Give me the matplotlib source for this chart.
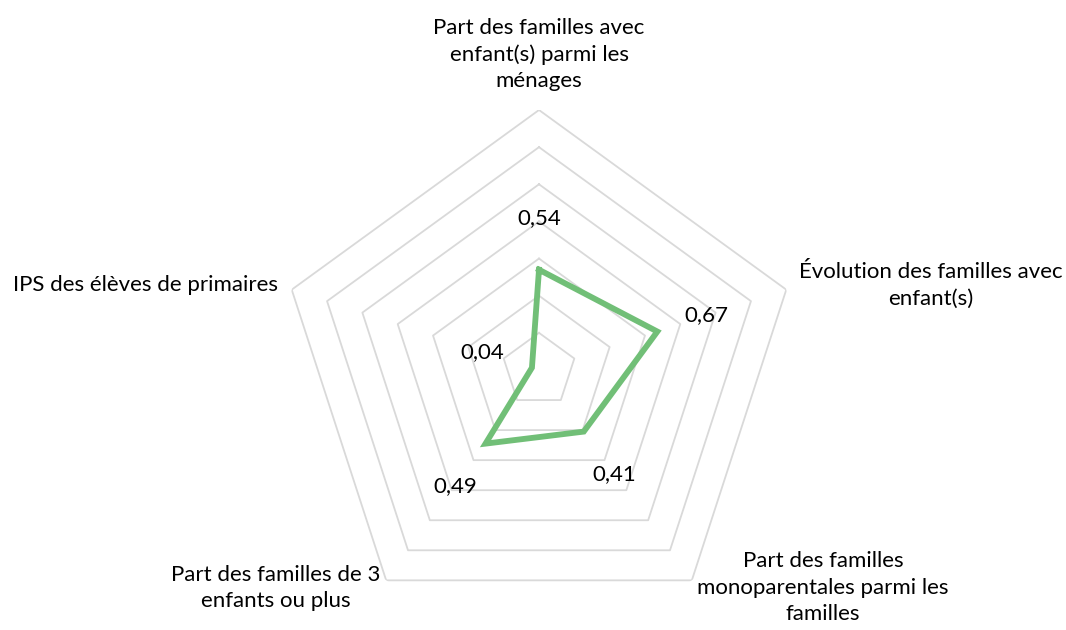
import numpy as np
import matplotlib
matplotlib.use('Agg')
import matplotlib.pyplot as plt

plt.rcParams['font.family'] = ['Lato', 'DejaVu Sans']

categories = ['Part des familles avec\nenfant(s) parmi les\nménages',
              'Évolution des familles avec\nenfant(s)',
              'Part des familles\nmonoparentales parmi les\nfamilles',
              'Part des familles de 3\nenfants ou plus',
              'IPS des élèves de primaires']
values = [0.54, 0.67, 0.41, 0.49, 0.04]
labels = ['0,54', '0,67', '0,41', '0,49', '0,04']
rings = [0.2, 0.4, 0.6, 0.8, 1.0, 1.2, 1.4]

n = len(categories)
angles = np.arange(n) * 2 * np.pi / n
closed = np.append(angles, angles[0])

fig = plt.figure(figsize=(10.66, 6.3), dpi=100)
ax = fig.add_axes([279 / 1066, 0, 520 / 1066, 520 / 630], projection='polar')
ax.set_theta_offset(np.pi / 2)
ax.set_theta_direction(-1)
ax.set_ylim(0, 1.4)
ax.axis('off')

# grille pentagonale
for r in rings:
    ax.plot(closed, [r] * (n + 1), color='#D9D9D9', lw=1.3, zorder=1)

# série
ax.plot(closed, np.append(values, values[0]), color='#71BF77', lw=4.2,
        solid_joinstyle='miter', zorder=3)

for a, v, t in zip(angles, values, labels):
    ax.text(a, v + 0.28, t, ha='center', va='center', fontsize=16, zorder=4)

# libellés des axes
pos = [(1.5, 'center', 'bottom'), (1.47, 'left', 'center'), (1.45, 'left', 'center'),
       (1.45, 'right', 'center'), (1.48, 'right', 'center')]
for a, c, (r, ha, va) in zip(angles, categories, pos):
    ax.text(a, r, c, ha=ha, va=va, multialignment='center', fontsize=16,
            linespacing=1.4, clip_on=False)

fig.savefig('out.png', dpi=100)
